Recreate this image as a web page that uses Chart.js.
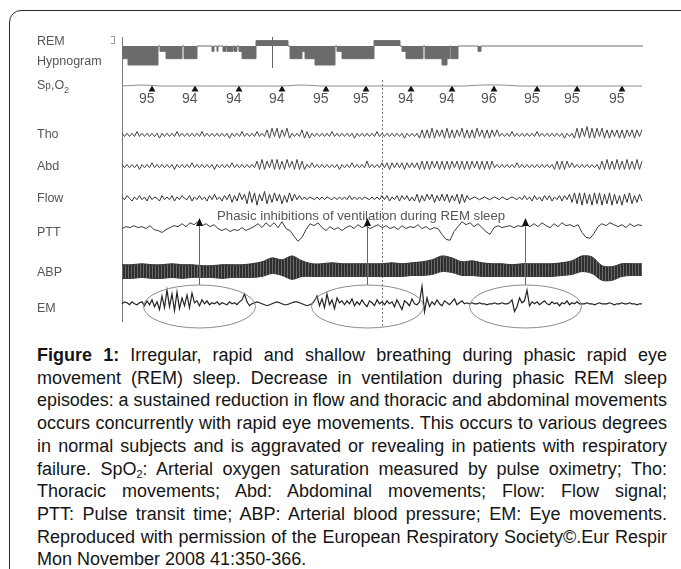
<!DOCTYPE html>
<html>
<head>
<meta charset="utf-8">
<script src="https://cdn.jsdelivr.net/npm/chart.js@4.4.1/dist/chart.umd.min.js"></script>
<style>
  body { margin: 0; width: 681px; height: 569px; overflow: hidden; background: #fff; position: relative;
         font-family: "Liberation Sans", Arial, sans-serif; }
  #frame { position: absolute; left: 9px; top: 10px; width: 700px; height: 620px;
           border: 1.5px solid #2a2a2a; border-radius: 12px; }
  #c { position: absolute; left: 0; top: 0; }
  .lab { position: absolute; left: 37px; font-size: 12.5px; color: #555; line-height: 1; transform: translateY(-50%); }
  #note { position: absolute; left: 217px; top: 208px; font-size: 13.2px; color: #555; white-space: nowrap; }
  #brk { position: absolute; left: 111px; top: 36px; width: 3px; height: 6px; border: 1px solid #999; border-left: none; }
  #cap { position: absolute; left: 37px; top: 344px; width: 630px; font-size: 18px; line-height: 22.7px; color: #151515; }
  .ln { width: 630px; white-space: nowrap; text-align: left; }
  .ln sub { font-size: 11px; vertical-align: -3px; line-height: 0; }
</style>
</head>
<body>
<div id="frame"></div>
<canvas id="c" width="681" height="340"></canvas>
<div id="brk"></div>
<div class="lab" style="top:41px">REM</div>
<div class="lab" style="top:61px">Hypnogram</div>
<div class="lab" style="top:87px">S<span style="font-size:10px">p</span>,O<sub style="font-size:9px">2</sub></div>
<div class="lab" style="top:134px">Tho</div>
<div class="lab" style="top:166px">Abd</div>
<div class="lab" style="top:198px">Flow</div>
<div class="lab" style="top:232px">PTT</div>
<div class="lab" style="top:272px">ABP</div>
<div class="lab" style="top:308px">EM</div>
<div id="note">Phasic inhibitions of ventilation during REM sleep</div>

<div id="cap">
  <div class="ln"><span><b>Figure 1:</b> Irregular, rapid and shallow breathing during phasic rapid eye</span></div>
  <div class="ln"><span>movement (REM) sleep. Decrease in ventilation during phasic REM sleep</span></div>
  <div class="ln"><span>episodes: a sustained reduction in flow and thoracic and abdominal movements</span></div>
  <div class="ln"><span>occurs concurrently with rapid eye movements. This occurs to various degrees</span></div>
  <div class="ln"><span>in normal subjects and is aggravated or revealing in patients with respiratory</span></div>
  <div class="ln"><span>failure. SpO<sub>2</sub>: Arterial oxygen saturation measured by pulse oximetry; Tho:</span></div>
  <div class="ln"><span>Thoracic movements; Abd: Abdominal movements; Flow: Flow signal;</span></div>
  <div class="ln"><span>PTT: Pulse transit time; ABP: Arterial blood pressure; EM: Eye movements.</span></div>
  <div class="ln"><span>Reproduced with permission of the European Respiratory Society©.Eur Respir</span></div>
  <div class="ln last"><span>Mon November 2008 41:350-366.</span></div>
</div>

<script>
// time axis runs 0..520 (left edge of traces to right edge)
var X_END = 520;

// hypnogram: segment starts and stage (1 = REM above line, 0 = line, -1..-3 deeper)
var hypX = [0, 6, 36, 38, 44, 60, 62, 75, 90, 92, 95, 96, 101, 104, 105, 111, 112, 115, 117, 120,
            134, 166, 168, 180, 183, 193, 213, 215, 220, 252, 278, 280, 284, 301, 303, 320, 325, 328, 329, 336,
            356, 359, 521];
var hypStage = [-2, -3, 0, -1, -2, 0, -2, 0, -1, 0, -1, 0, -1, 0, -1, 0, -1, 0, -1, -2,
                1, 0, -2, -1, -2, -3, 0, -1, -2, 1, 0, -1, -2, 0, -2, -3, -2, 0, -2, 0,
                -1, 0, 0];

// SpO2 markers
var spo2X = [30, 73, 117, 160, 204, 244, 289, 330, 372, 415, 455, 500];
var spo2Val = [95, 94, 94, 94, 95, 95, 94, 94, 96, 95, 95, 95];
var spo2Line = [0, 1, 0, 0, 0, 0, 0, 0, 0, 1, 0, 0, 0, 0, 0, 0, 0, 0, 1, 1, 0, 0, 0, 0, 0, 0, 0];

// respiratory traces (deflection, up positive)
var tho = [1,-1,1,-1,1,-1,2,-1,1,-1, 1,-1,1,-1,1,-2,1,-1,1,-1, 1,-1,2,-1,1,-1,1,-1,1,-1,
           1,-1,2,-1,1,-1,1,-1,1,-1, 1,-1,1,-2,1,-1,1,-1,2,-1, 1,-1,1,-1,2,-1,1,-1,
           3,-2,4,-1,4,-2,3,-1,4,-2, 1,-1,1,-1, 3,-2,2,-2,1,
           -1,1,-1,1,-1,1,-1,2,-1,1, -1,1,-1,1,-1,1,-2,1,-1,1, -1,1,-1,1,-1,2,-1,1,-1,1,
           -1,1,-1,1,-1,1,-2,1,-1,1, -1,1,
           -2,3,-2,3,-2,4,-2,3,-1,3, -2,4,-2,3,-2,3,-1,4,-2,3, -2,3,-2,4,-1,3,-2,3,-2,3, -1,3,
           -1,1,-1,1,-1,2,-1,1,-1,1, -1,1,-1,1,-1,2,-1,1,-1,1, -1,1,-1,1,-1,1,-2,1,-1,1,
           -2,4,-2,4,-1,5,-2,4,-2,4, -1,4,
           -2,3,-2,3,-1,3,-2,3,-2,3, -1,3,-2,3,-1,3];
var abd = [1,-1,1,-1,1,-1,1,-2,1,-1, 1,-1,2,-1,1,-1,1,-1,1,-1, 1,-2,1,-1,1,-1,1,-1,2,-1,
           1,-1,1,-1,1,-1,1,-2,1,-1, 1,-1,1,-1,2,-1,1,-1,1,-1, 1,-1,1,-1,
           3,-2,4,-2,3,-1,4,-2,4,-2, 3,-2,4,-1,3,-2,4,-2,3,-2,
           1,-1,2,-1,1,-1,1,-1,1,-1, 1,-1,1,-2,1,-1,1,-1,2,-1, 1,-1,1,-1,3,-1,1,-1,1,
           -1,2,-1,2,-2,2,-1,2,-1,2,-2,2,-1,2,-1,2,
           -2,3,-2,3,-2,3,-1,3,-2,3, -2,3,-2,3,-1,3,-2,3,-2,3, -2,3,-1,3,-2,3,-2,3,-2,3, -1,
           1,-1,1,-1,1,-1,1,-1,2,-1, 1,-1,1,-1,1,-1,1,-1,1,-1, 1,-1,1,
           -2,3,-2,3,-2,3,-1,2,
           -1,1,-1,1,-1,1,-1,1,-1,1,
           -2,3,-2,4,-2,3,-2,4,-2,3, -2,4,-2,3,-2,4,-2,3];
var flow = [1,-1,2,0,-2,1,-1,2,-1,1, -2,2,-1,1,0,-2,2,-1,1,-1, 2,-2,1,-1,2,0,-1,2,-2,1,
            -1,2,-1,1,-2,2,-1,3,-1,1, -2,2,
            -1,3,-3,2,-2,4,-1,3,-4,5, -3,4,-5,3,-2,5,-4,3,-3,4, -2,3,-4,2,-3,4,-2,3,-1,2,
            -1,1,-1,1,0,-1,1,-1,1,-1, 1,0,-1,1,-1,1,-1,1,-1,2, -1,1,-1,1,-1,1,0,-1,1,-1, 1,-1,
            2,-1,2,-2,1,-1,2,-2,2,-1,2,-2,1,
            -2,3,-3,2,-2,3,-1,3,-3,2, -2,3,-2,3,-3,2,-2,3,-4,3, -3,2,
            -1,0,1,0,-1,0,1,0,-1,0,1,0,-1,1,0,-1,0,1,0,-1,
            1,-1,2,-1,1,-2,2,-1,1,-2,2,-1,2,-2,1,-1,2,-2,2,-1,
            3,-3,4,-4,4,-5,4,-4,3,-5,4,-4,4,-5,3,-4,4,-5,3,-4,2,-5,3,-3,4,-4,2,-3,3,-2];

// pulse transit time (coarser sampling)
var ptt = [0,2,1,3,1,2,0,3, -1,-2,-4,-1, 1,3,2,5,2,6,4,7, 3,5,2,4,0, -2,0,-3,-1,-2,1,-2,0,
           2,5,1,6,2, 6,1,7,0,-2, -8,-13,-9, -1,5,3,6, 1,-2,2,-1,1,-2,1, 3,0,4,1,3,0,2,4,
           1,3,0,2,-1,3,0,2,1,4,0,2,-1,1,0, -6,-11,-12,-3, 2,7,4,6, 2,5,1,-3,-6,
           1,3,1,2,3,1,3,2, 4,2,5,2,6,3,1,5,2,6,3,4,2,4, -4,-9,-10,-5, 2,5,3,6,4, 2,4,1,5,2,4,3];

// arterial blood pressure band, upper and lower envelope every 10 units
var abpTop = [6,6,7,6,6,7,6,6,5,5, 6,6,6,7,9,13,11,15,10,7, 7,8,7,7,7,7,7,8,7,8,
              9,11,15,13,9,10,8,7,7,6, 7,7,7,7,8,10,15,14,5,4, 7,7,7];
var abpBot = [-8,-8,-7,-8,-8,-7,-8,-7,-7,-7, -8,-7,-7,-7,-6,-3,-5,-9,-6,-6, -6,-6,-6,-6,-6,-6,-6,-6,-6,-5,
              -5,-4,-1,-2,-5,-5,-6,-6,-6,-6, -6,-6,-6,-6,-5,-4,-1,-3,-10,-10, -6,-5,-5];

// eye movements
var em = [0,2,1,-1,2,0,-1,1,2, -2,3,-1,4,-3, 2,-6,8,-4,14,-3,10,-7,12, -5,6,-2,9,-4,11,1,3,
          -2,4,0,3,-1, 1,0,2,-1,1,0,-1,2,0,1,-1,2, 4,10,2,-2,
          0,1,2,1,0,-1,-2,-1,0,1,2,1,0,-1,-1,0,1,2,2,1,0,-1,-2,-1,
          0,3,8,-2,5,-4,10,-1,4,-5,6,1,3, -1,3,0,5,-2,2,-1,4,0,-3,3,1,-2,4,0,2,-1,3,0,
          2,-3,4,-1,-6,3,1,-2,5,0,-1,2, 18,-8,6,-3, 2,-1,4,0,-2,3,1,-1,2,5,-1,1,3,0,1,
          0,1,0,0,1,0,0,-1,0,0,1,0,0,1,0,0, 1,4,-8,-3,6, 1,3,14,-2,2,
          0,2,-1,1,3,0,-1,2,0,1,-2,1,0,3,-1,1,0,2,0,
          0,0,1,0,0,-1,0,1,0,0,0,1,0,-1,0,0,1,0,0,1,0,0,-1,0,0];

var arrowX = [77, 245, 403];
var cursorX = 260;
var remCursorX = 150;

// ---- layout (pixel rows of each channel) ----
var rowY = { hyp: 43, spo2: 84, tho: 134, abd: 166, flow: 199, ptt: 230, abp: 273, em: 307 };
var stageOff = { '1': -5.5, '0': 0, '-1': 5.5, '-2': 13, '-3': 19.5 };

function trace(vals, row, gain) {
  return vals.map(function (v, i) {
    return { x: i * X_END / (vals.length - 1), y: row - v * gain };
  });
}

var hypData = hypX.map(function (x, i) {
  return { x: x, y: rowY.hyp + stageOff[String(hypStage[i])] };
});

// striped fill for the ABP band
var pc = document.createElement('canvas');
pc.width = 3; pc.height = 4;
var pctx = pc.getContext('2d');
pctx.fillStyle = '#2e2e2e'; pctx.fillRect(0, 0, 3, 4);
pctx.fillStyle = '#6a6a6a'; pctx.fillRect(2, 0, 1, 4);
var abpFill = pctx.createPattern(pc, 'repeat');

var guides = {
  id: 'guides',
  beforeDatasetsDraw: function (c) {
    var ctx = c.ctx, xs = c.scales.x;
    ctx.save();
    ctx.lineWidth = 1;
    ctx.strokeStyle = '#7a7a7a';
    var ax = Math.round(xs.getPixelForValue(0)) + 0.5;
    ctx.beginPath(); ctx.moveTo(ax, 37); ctx.lineTo(ax, 322); ctx.stroke();
    var rx = Math.round(xs.getPixelForValue(remCursorX)) + 0.5;
    ctx.strokeStyle = '#666';
    ctx.beginPath(); ctx.moveTo(rx, 37); ctx.lineTo(rx, 68); ctx.stroke();
    var dx = Math.round(xs.getPixelForValue(cursorX)) + 0.5;
    ctx.strokeStyle = '#777';
    ctx.setLineDash([2, 2]);
    ctx.beginPath(); ctx.moveTo(dx, 80); ctx.lineTo(dx, 328); ctx.stroke();
    ctx.restore();
  },
  afterDatasetsDraw: function (c) {
    var ctx = c.ctx, xs = c.scales.x;
    ctx.save();
    // SpO2 numbers under the markers
    var meta = c.getDatasetMeta(c.data.datasets.findIndex(function (d) { return d.label === 'spo2marks'; }));
    ctx.fillStyle = '#555';
    ctx.font = '14px "Liberation Sans", Arial, sans-serif';
    ctx.textAlign = 'right';
    meta.data.forEach(function (pt, i) {
      ctx.fillText(String(spo2Val[i]), pt.x + 2.5, 103);
    });
    // arrows and ellipses
    arrowX.forEach(function (a) {
      var px = Math.round(xs.getPixelForValue(a)) + 0.5;
      ctx.strokeStyle = '#666'; ctx.lineWidth = 1;
      ctx.beginPath(); ctx.moveTo(px, 285); ctx.lineTo(px, 224); ctx.stroke();
      ctx.fillStyle = '#111';
      ctx.beginPath(); ctx.moveTo(px, 218); ctx.lineTo(px - 3.5, 226); ctx.lineTo(px + 3.5, 226); ctx.closePath(); ctx.fill();
      ctx.strokeStyle = '#8a8a8a';
      ctx.beginPath(); ctx.ellipse(px, 306.5, 56, 21.5, 0, 0, Math.PI * 2); ctx.stroke();
    });
    ctx.restore();
  }
};

new Chart(document.getElementById('c'), {
  type: 'line',
  data: {
    datasets: [
      { label: 'abpTop', data: trace(abpTop, rowY.abp, 1), borderColor: '#333', backgroundColor: abpFill,
        fill: '+1', tension: 0.3 },
      { label: 'abpBot', data: trace(abpBot, rowY.abp, 1), borderColor: '#333', tension: 0.3 },
      { label: 'hyp', data: hypData, stepped: true, borderColor: '#6e6e6e', backgroundColor: '#6b6b6b',
        fill: { value: rowY.hyp } },
      { label: 'spo2', data: trace(spo2Line, rowY.spo2, 1), borderColor: '#8c8c8c', tension: 0.3 },
      { label: 'spo2marks', data: spo2X.map(function (x) { return { x: x, y: rowY.spo2 + 3.5 }; }),
        showLine: false, pointStyle: 'triangle', pointRadius: 4, backgroundColor: '#111', borderWidth: 0 },
      { label: 'Tho', data: trace(tho, rowY.tho, 1.7), borderColor: '#444' },
      { label: 'Abd', data: trace(abd, rowY.abd, 1.7), borderColor: '#444' },
      { label: 'Flow', data: trace(flow, rowY.flow, 1.4), borderColor: '#333' },
      { label: 'PTT', data: trace(ptt, rowY.ptt, 1), borderColor: '#3a3a3a' },
      { label: 'EM', data: trace(em, rowY.em, 1), borderColor: '#222', borderWidth: 1.2 }
    ]
  },
  options: {
    responsive: false,
    animation: false,
    devicePixelRatio: 1,
    layout: { padding: { left: 122, right: 38, top: 0, bottom: 0 } },
    scales: {
      x: { type: 'linear', min: 0, max: 521, display: false },
      y: { type: 'linear', min: 0, max: 340, reverse: true, display: false }
    },
    elements: { point: { radius: 0 }, line: { borderWidth: 1, tension: 0 } },
    datasets: { line: { clip: false } },
    plugins: { legend: { display: false }, tooltip: { enabled: false } }
  },
  plugins: [guides]
});

// justify caption lines, squeeze lines that are too long
document.querySelectorAll('#cap .ln').forEach(function (el) {
  var w = el.firstElementChild.getBoundingClientRect().width;
  if (el.classList.contains('last')) return;
  if (w > 630) {
    el.style.width = w + 'px';
    el.style.transformOrigin = '0 0';
    el.style.transform = 'scaleX(' + (630 / w) + ')';
  } else {
    el.style.whiteSpace = 'normal';
    el.style.textAlign = 'justify';
    el.style.textAlignLast = 'justify';
  }
});
</script>
</body>
</html>
